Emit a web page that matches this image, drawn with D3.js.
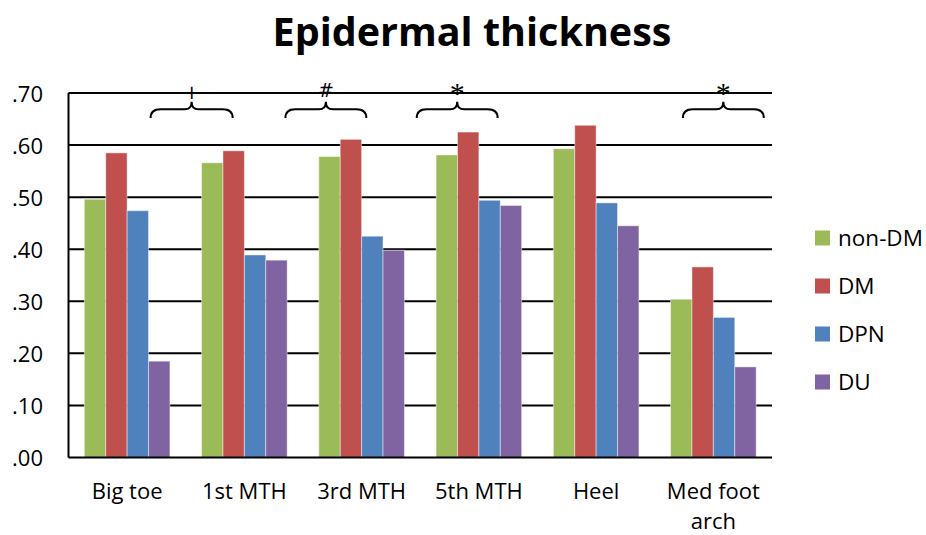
<!DOCTYPE html>
<html>
<head>
<meta charset="utf-8">
<script src="https://cdn.jsdelivr.net/npm/d3@7"></script>
<style>
  body { margin: 0; background: #fff; }
  text { font-family: "Open Sans", sans-serif; fill: #000; }
</style>
</head>
<body>
<svg id="chart" width="926" height="535"></svg>
<script>
// data
var sites = ["Big toe", "1st MTH", "3rd MTH", "5th MTH", "Heel", "Med foot arch"];
var groups = ["non-DM", "DM", "DPN", "DU"];
var nonDM = [0.496, 0.566, 0.578, 0.581, 0.593, 0.304];
var DM    = [0.585, 0.589, 0.611, 0.625, 0.638, 0.366];
var DPN   = [0.474, 0.389, 0.425, 0.494, 0.489, 0.269];
var DU    = [0.185, 0.379, 0.398, 0.484, 0.445, 0.174];
var yTicks = [0, 0.1, 0.2, 0.3, 0.4, 0.5, 0.6, 0.7];
// significance braces, in category units (0 = centre of first site)
var marks = ["+", "#", "*", "*"];
var markFrom = [0.20, 1.35, 2.47, 4.74];
var markTo   = [0.90, 2.04, 3.16, 5.43];

var series = [nonDM, DM, DPN, DU];
var colors = ["#9bbb59", "#c0504d", "#4f81bd", "#8064a2"];

var margin = { top: 93, right: 154, bottom: 77.5, left: 68.5 },
    width = 926 - margin.left - margin.right,
    height = 535 - margin.top - margin.bottom;

var svg = d3.select("#chart");

svg.append("text")
    .attr("x", 472)
    .attr("y", 46)
    .style("text-anchor", "middle")
    .style("font-weight", "bold")
    .style("font-size", "39.5px")
    .text("Epidermal thickness");

var g = svg.append("g")
    .attr("transform", "translate(" + margin.left + "," + margin.top + ")");

var x0 = d3.scaleBand().domain(sites).range([0, width])
    .paddingInner(0.27).paddingOuter(0.135);
var x1 = d3.scaleBand().domain(groups).range([0, x0.bandwidth()]);
var y = d3.scaleLinear().domain([0, 0.7]).range([height, 0]);

// gridlines
g.selectAll(".grid")
    .data(yTicks.slice(1))
    .enter().append("line")
    .attr("x1", 0).attr("x2", width)
    .attr("y1", function(d) { return y(d); })
    .attr("y2", function(d) { return y(d); })
    .style("stroke", "#000")
    .style("stroke-width", 2);

// y labels
g.selectAll(".ylab")
    .data(yTicks)
    .enter().append("text")
    .attr("x", -25.5)
    .attr("y", function(d) { return y(d) + 8.5; })
    .style("text-anchor", "end")
    .style("font-size", "22px")
    .text(function(d) { return d3.format(".2f")(d).replace(/^0/, ""); });

// bars
var site = g.selectAll(".site")
    .data(sites)
    .enter().append("g")
    .attr("transform", function(d) { return "translate(" + x0(d) + ",0)"; });

site.selectAll("rect")
    .data(function(d, i) {
        return groups.map(function(k, j) { return { key: k, value: series[j][i], c: colors[j] }; });
    })
    .enter().append("rect")
    .attr("x", function(d) { return x1(d.key); })
    .attr("y", function(d) { return y(d.value); })
    .attr("width", x1.bandwidth())
    .attr("height", function(d) { return height - y(d.value); })
    .style("fill", function(d) { return d.c; })
    .style("stroke", "rgba(255,255,255,0.45)")
    .style("stroke-width", 1);

// axes lines
g.append("line").attr("x1", 0).attr("x2", 0).attr("y1", 0).attr("y2", height)
    .style("stroke", "#000").style("stroke-width", 2);
g.append("line").attr("x1", 0).attr("x2", width).attr("y1", height).attr("y2", height)
    .style("stroke", "#000").style("stroke-width", 2);

// category labels
var step = x0.step();
function cx(u) { return x0(sites[0]) + x0.bandwidth() / 2 + u * step; }

g.selectAll(".xlab")
    .data(sites)
    .enter().append("text")
    .attr("x", function(d) { return x0(d) + x0.bandwidth() / 2; })
    .attr("y", height + 41.5)
    .style("text-anchor", "middle")
    .style("font-size", "22px")
    .each(function(d) {
        var t = d3.select(this);
        var words = d === "Med foot arch" ? ["Med foot", "arch"] : [d];
        words.forEach(function(w, i) {
            t.append("tspan").attr("x", t.attr("x")).attr("dy", i ? 30 : 0).text(w);
        });
    });

// braces
marks.forEach(function(m, i) {
    var a = cx(markFrom[i]), b = cx(markTo[i]), c = (a + b) / 2;
    var ym = 16.3, yt = 8.7, yE = 25;
    var p = d3.path();
    p.moveTo(a, yE);
    p.quadraticCurveTo(a, ym, a + 10, ym);
    p.lineTo(c - 7, ym);
    p.quadraticCurveTo(c, ym, c, yt);
    p.quadraticCurveTo(c, ym, c + 7, ym);
    p.lineTo(b - 10, ym);
    p.quadraticCurveTo(b, ym, b, yE);
    g.append("path").attr("d", p.toString())
        .style("fill", "none").style("stroke", "#000").style("stroke-width", 2);
    g.append("text")
        .attr("x", c)
        .attr("y", m === "*" ? 10 : (m === "+" ? 6 : 3.5))
        .style("text-anchor", "middle")
        .style("font-family", m === "*" ? "Liberation Serif" : "DejaVu Sans")
        .style("font-size", m === "*" ? "30px" : "19px")
        .text(m);
});

// legend
var legend = svg.selectAll(".legend")
    .data(groups)
    .enter().append("g")
    .attr("transform", function(d, i) { return "translate(815," + (230.5 + i * 48) + ")"; });
legend.append("rect").attr("width", 15).attr("height", 15)
    .style("fill", function(d, i) { return colors[i]; });
legend.append("text").attr("x", 23).attr("y", 15)
    .style("font-size", "22.5px")
    .text(function(d) { return d; });
</script>
</body>
</html>
